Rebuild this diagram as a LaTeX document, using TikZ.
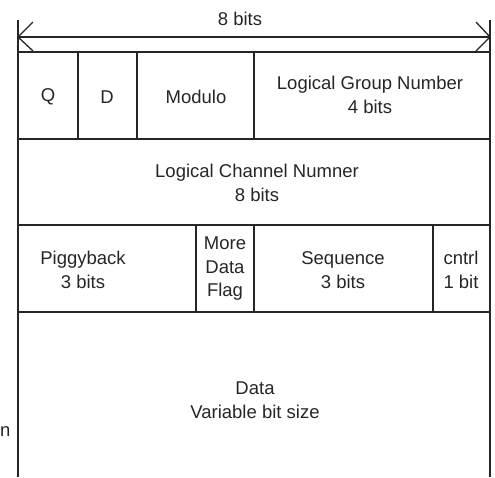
\documentclass[tikz,border=0pt]{standalone}
\usepackage{fontspec}
\setmainfont{Liberation Sans}
\begin{document}
\begin{tikzpicture}[x=1pt,y=-1pt,
  ln/.style={draw=black!85,line width=1.3pt},
  lbl/.style={text=black!85,align=center,font=\fontsize{18.5}{23.5}\selectfont,inner sep=0pt}]
\useasboundingbox (0,0) rectangle (495,477);
% dimension arrow
\coordinate (tl) at (18,20);
\coordinate (tr) at (490,20);
\coordinate (al) at (18,37);
\coordinate (ar) at (490,37);
\draw[ln] (al) -- (ar);
\draw[ln] (al) -- (33,22) (al) -- (33,51);
\draw[ln] (ar) -- (476,22) (ar) -- (476,51);
\node[lbl] (bits) at (240,19) {8 bits};
% frame
\draw[ln] (tl) -- (18,477);
\draw[ln] (tr) -- (490,477);
\draw[ln] (18,52) -- (490,52);
\draw[ln] (18,139) -- (490,139);
\draw[ln] (18,225) -- (490,225);
\draw[ln] (18,312) -- (490,312);
% row 1 dividers
\draw[ln] (78,52) -- (78,139);
\draw[ln] (137,52) -- (137,139);
\draw[ln] (254,52) -- (254,139);
% row 3 dividers
\draw[ln] (196,225) -- (196,312);
\draw[ln] (254,225) -- (254,312);
\draw[ln] (433,225) -- (433,312);
% labels
\node[lbl] (q) at (48,97) {Q};
\node[lbl] (d) at (107,97) {D};
\node[lbl] (mod) at (196,97) {Modulo};
\node[lbl] (lgn) at (370,95) {Logical Group Number\\4 bits};
\node[lbl] (lcn) at (257,183) {Logical Channel Numner\\8 bits};
\node[lbl] (pig) at (83,270) {Piggyback\\3 bits};
\node[lbl] (mdf) at (225,269) {More\\Data\\Flag};
\node[lbl] (seq) at (343,270) {Sequence\\3 bits};
\node[lbl] (cntrl) at (461,270) {cntrl\\1 bit};
\node[lbl] (data) at (255,400) {Data\\Variable bit size};
\node[lbl,anchor=west] (nfrag) at (0,432) {n};
\end{tikzpicture}
\end{document}
